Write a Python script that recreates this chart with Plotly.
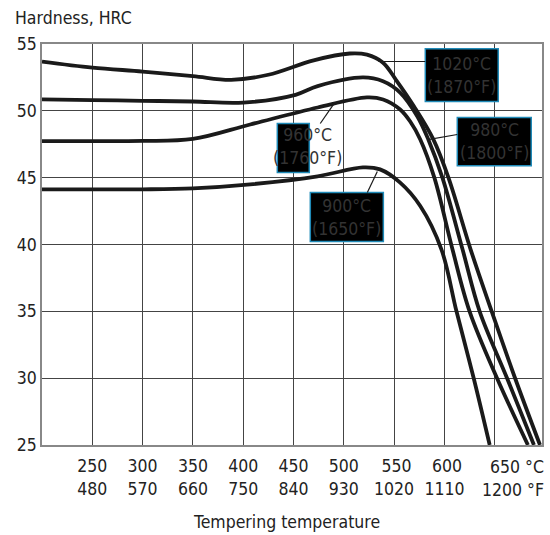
import plotly.graph_objects as go

# ---- data (tempering temperature °C, hardness HRC) ----
temp_900 = [200, 250, 300, 350, 407, 474, 519, 536, 556, 576, 597, 612, 629, 645]
hrc_900 = [44.13, 44.13, 44.13, 44.2, 44.5, 45.1, 45.77, 45.62, 44.63, 42.88, 39.64, 35.0, 30.03, 25.0]

temp_960 = [200, 250, 300, 350, 407, 474, 523, 539, 556, 566, 576, 590, 608, 625, 652, 683]
hrc_960 = [47.73, 47.73, 47.75, 47.9, 48.98, 50.25, 51.0, 50.85, 50.1, 49.2, 47.86, 45.0, 39.64, 35.0, 30.05, 25.0]

temp_980 = [200, 250, 300, 350, 400, 452, 474, 519, 539, 556, 573, 584, 598, 618, 635, 662, 689]
hrc_980 = [50.85, 50.8, 50.75, 50.7, 50.62, 51.2, 51.85, 52.5, 52.22, 51.37, 49.6, 47.86, 45.0, 39.64, 35.0, 30.05, 25.0]

temp_1020 = [200, 250, 300, 350, 388, 425, 470, 506, 523, 539, 552, 570, 589, 604, 626, 647, 670, 695]
hrc_1020 = [53.69, 53.24, 52.94, 52.6, 52.32, 52.7, 53.78, 54.29, 54.2, 53.6, 52.3, 50.3, 47.86, 45.0, 39.64, 35.0, 30.05, 25.0]

NB = "\u00a0"
x_tickvals = [250, 300, 350, 400, 450, 500, 550, 600, 650]
x_ticktext = ["250<br>480", "300<br>570", "350<br>660", "400<br>750", "450<br>840",
              "500<br>930", NB + "550<br>1020", NB + "600<br>1110", ""]
last_tick_label = "650 °C<br>1200 °F"
y_tickvals = [25, 30, 35, 40, 45, 50, 55]

labels = ["1020°C<br>(1870°F)", "980°C<br>(1800°F)", "960°C<br>(1760°F)", "900°C<br>(1650°F)"]

FONT = "DejaVu Sans Condensed, Liberation Sans Narrow, sans-serif"
FS = 17.5
TXT = "#333333"

fig = go.Figure()
for tx, hy in [(temp_900, hrc_900), (temp_960, hrc_960), (temp_980, hrc_980), (temp_1020, hrc_1020)]:
    fig.add_trace(go.Scatter(x=tx, y=hy, mode="lines",
                             line=dict(color="#1a1a1a", width=3.8, shape="spline", smoothing=1.0),
                             showlegend=False, hoverinfo="skip", cliponaxis=True))

# label boxes (x0, x1, y0, y1) in data units, text centre, pointer line
boxes = [
    (581, 653.5, 50.7, 54.64),
    (612.8, 686.3, 45.9, 49.5),
    (433.9, 465.7, 45.38, 49.05),
    (466.7, 539.3, 40.22, 43.89),
]
text_pos = [(617, 52.67), (649.6, 47.7), (463.7, 47.33), (502.8, 42.05)]
pointers = [
    (581, 53.69, 534.3, 53.69),
    (612.8, 48.23, 583.7, 47.85),
    (476.6, 49.05, 489.6, 50.47),
    (523.4, 43.89, 533.3, 45.46),
]
for (x0, x1, y0, y1) in boxes:
    fig.add_shape(type="rect", x0=x0, x1=x1, y0=y0, y1=y1, xref="x", yref="y",
                  fillcolor="black", line=dict(color="#1f8ab8", width=1.5), layer="above")
for (xa, ya, xb, yb) in pointers:
    fig.add_shape(type="line", x0=xa, y0=ya, x1=xb, y1=yb, xref="x", yref="y",
                  line=dict(color="#1a1a1a", width=1.2), layer="above")
for (tx, ty), lab in zip(text_pos, labels):
    fig.add_annotation(x=tx, y=ty, xref="x", yref="y", text=lab, showarrow=False,
                       font=dict(family=FONT, size=FS, color=TXT), align="center")

fig.add_annotation(x=-0.058, y=1.066, xref="paper", yref="paper", text="Hardness, HRC",
                   showarrow=False, xanchor="left", yanchor="middle",
                   font=dict(family=FONT, size=FS, color="#222"))
fig.add_annotation(x=0.4886, y=-0.192, xref="paper", yref="paper", text="Tempering temperature",
                   showarrow=False, xanchor="center", yanchor="middle",
                   font=dict(family=FONT, size=FS, color="#222"))
# last tick label, right-aligned at the chart edge as in the reference
fig.add_annotation(x=1.008, y=-0.024, xref="paper", yref="paper", text=last_tick_label,
                   showarrow=False, xanchor="right", yanchor="top", align="right",
                   font=dict(family=FONT, size=FS, color="#222"))

fig.update_xaxes(range=[200, 697], tickvals=x_tickvals, ticktext=x_ticktext, tickangle=0,
                 automargin=False, ticklen=0, ticklabelstandoff=4,
                 showgrid=True, gridcolor="#444", gridwidth=1, zeroline=False,
                 showline=True, linecolor="#888", linewidth=1.5, mirror=True,
                 ticks="", tickfont=dict(family=FONT, size=FS, color="#222"))
fig.update_yaxes(range=[25, 55], tickvals=y_tickvals, automargin=False, ticklen=0,
                 showgrid=True, gridcolor="#444", gridwidth=1, zeroline=False,
                 showline=True, linecolor="#888", linewidth=1.5, mirror=True,
                 ticks="", tickfont=dict(family=FONT, size=FS, color="#222"))

fig.update_layout(width=550, height=535, margin=dict(l=42, r=8, t=44, b=90),
                  plot_bgcolor="white", paper_bgcolor="white",
                  font=dict(family=FONT, size=FS, color="#222"))

fig.write_html("out.html", config={"displayModeBar": False},
               post_script="document.body.style.margin='0px';document.body.style.overflow='hidden';")
